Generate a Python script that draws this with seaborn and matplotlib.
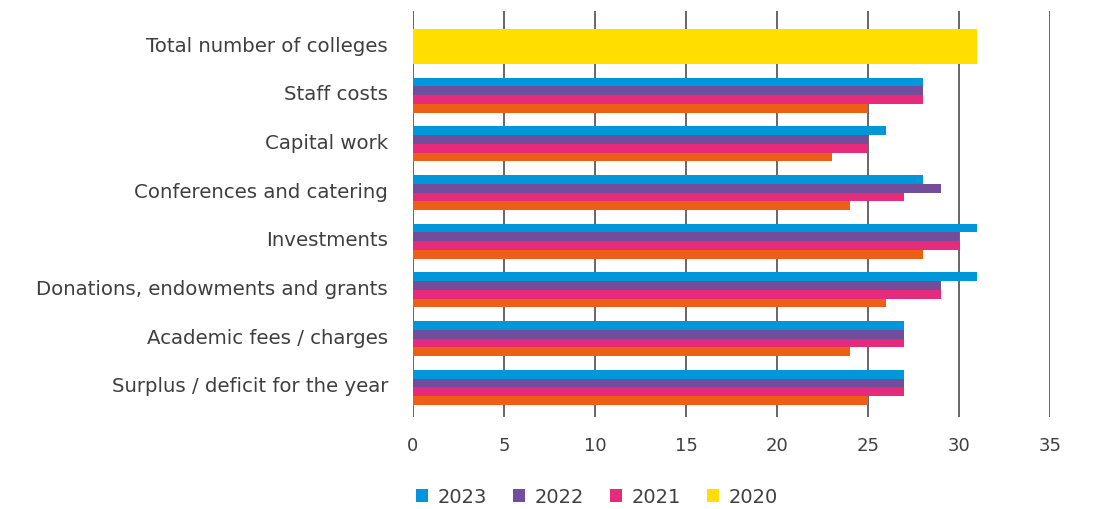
import matplotlib
matplotlib.use("Agg")
import matplotlib.pyplot as plt
from matplotlib.patches import Patch
from matplotlib.transforms import ScaledTranslation
import seaborn as sns
import pandas as pd

# Categories, top to bottom
categories = [
    "Total number of colleges",
    "Staff costs",
    "Capital work",
    "Conferences and catering",
    "Investments",
    "Donations, endowments and grants",
    "Academic fees / charges",
    "Surplus / deficit for the year",
]
years = ["2023", "2022", "2021", "2020"]

total_colleges = [31]

# Number of colleges reporting each item, per year (rows after the total)
values_2023 = [28, 26, 28, 31, 31, 27, 27]
values_2022 = [28, 25, 29, 30, 29, 27, 27]
values_2021 = [28, 25, 27, 30, 29, 27, 27]
values_2020 = [25, 23, 24, 28, 26, 24, 25]

x_ticks = [0, 5, 10, 15, 20, 25, 30, 35]

blue = "#0096DA"
purple = "#724E9A"
pink = "#E72A7A"
orange = "#EC5F15"
yellow = "#FFDE00"
text_color = "#3f3f3f"

items = categories[1:]
rows = []
for year, vals in zip(years, [values_2023, values_2022, values_2021, values_2020]):
    for cat, v in zip(items, vals):
        rows.append({"category": cat, "year": year, "value": v})
df = pd.DataFrame(rows)
df_total = pd.DataFrame({"category": [categories[0]], "value": total_colleges})

sns.set_theme(style="white")
plt.rcParams["font.family"] = ["DejaVu Sans"]

fig = plt.figure(figsize=(10.94, 5.10), dpi=100)
ax = fig.add_axes([413 / 1094, 1 - 418 / 510, (1050 - 413) / 1094, (418 - 12) / 510])

sns.barplot(data=df, y="category", x="value", hue="year", order=categories,
            hue_order=years, palette=[blue, purple, pink, orange],
            orient="h", width=0.72, saturation=1, linewidth=0, legend=False, ax=ax)
sns.barplot(data=df_total, y="category", x="value", order=categories,
            color=yellow, orient="h", width=0.72, saturation=1, linewidth=0, ax=ax)

ax.set_xlim(0, 35)
ax.set_ylim(7.61, -0.73)
ax.set_xticks(x_ticks)
ax.set_xticklabels([str(t) for t in x_ticks])
ax.set_xlabel("")
ax.set_ylabel("")
for s in ax.spines.values():
    s.set_visible(False)
ax.set_axisbelow(True)
ax.xaxis.grid(True, color="#5a5a5a", linewidth=1.3)
ax.yaxis.grid(False)
ax.tick_params(axis="x", length=0, pad=14, labelsize=13, labelcolor=text_color)
ax.tick_params(axis="y", length=0, pad=18, labelsize=14.2, labelcolor=text_color)

# nudge category labels up slightly so they sit level with the bar groups
lift = ScaledTranslation(0, 2.5 / 72, fig.dpi_scale_trans)
for lab in ax.get_yticklabels():
    lab.set_transform(lab.get_transform() + lift)

handles = [Patch(facecolor=c, edgecolor="none") for c in [blue, purple, pink, yellow]]
fig.legend(handles, years, loc="center", bbox_to_anchor=(597 / 1094, 1 - 498 / 510),
           ncol=4, frameon=False, fontsize=14, labelcolor=text_color,
           handlelength=0.65, handleheight=0.65, handletextpad=0.5, columnspacing=1.3)

fig.savefig("out.png", dpi=100)
